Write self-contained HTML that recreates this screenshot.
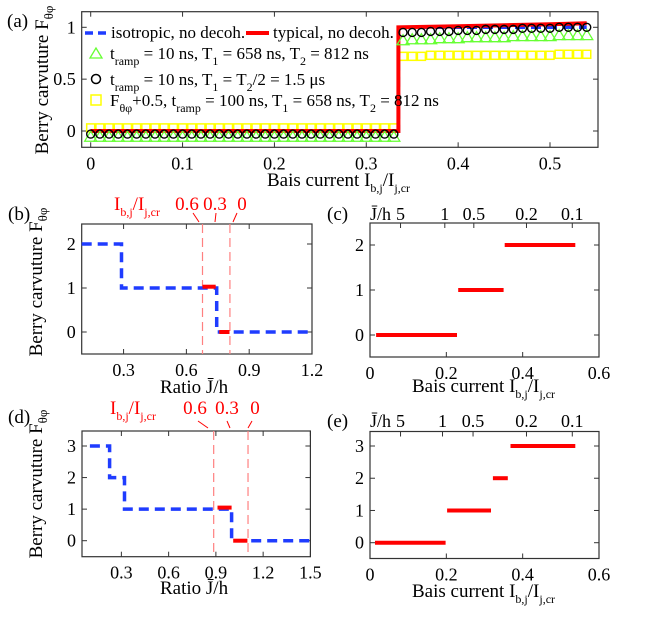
<!DOCTYPE html>
<html><head><meta charset="utf-8"><style>
html,body{margin:0;padding:0;background:#fff}
svg, svg text{font-family:"Liberation Serif","DejaVu Serif","Times New Roman",serif}
</style></head><body>
<svg id="fig" width="654" height="614" viewBox="0 0 654 614" xmlns="http://www.w3.org/2000/svg" font-family="Liberation Serif, DejaVu Serif, serif">
<g id="root" font-family="Liberation Serif, DejaVu Serif, serif"></g>
</svg>
<script>
// ---- Data ----
// Panel (a)
const aXTicks=[0,0.1,0.2,0.3,0.4,0.5];
const aYTicks=[0,0.5,1];
const aBlue=[[0,0],[0.335,0],[0.335,1],[0.54,1]];
const aRed=[[0,0],[0.335,0],[0.335,1.0],[0.40,1.01],[0.45,1.02],[0.50,1.03],[0.54,1.04]];
const aMarkLeftX=[0,0.01,0.02,0.03,0.04,0.05,0.06,0.07,0.08,0.09,0.10,0.11,0.12,0.13,0.14,0.15,0.16,0.17,0.18,0.19,0.20,0.21,0.22,0.23,0.24,0.25,0.26,0.27,0.28,0.29,0.30,0.31,0.32,0.33];
const aMarkRightX=[0.34,0.35,0.36,0.37,0.38,0.39,0.40,0.41,0.42,0.43,0.44,0.45,0.46,0.47,0.48,0.49,0.50,0.51,0.52,0.53,0.54];
const aCircLeft=-0.03, aTriLeft=-0.06, aSqLeft=0.03;
const aCircRight=[0.95,0.95,0.95,0.96,0.96,0.96,0.97,0.97,0.97,0.98,0.98,0.98,0.98,0.99,0.99,0.99,0.99,1.0,1.0,1.0,1.0];
const aTriRight=[0.87,0.88,0.88,0.88,0.89,0.89,0.89,0.9,0.9,0.9,0.9,0.9,0.91,0.91,0.91,0.91,0.91,0.92,0.92,0.92,0.92];
const aSqRight=[0.72,0.72,0.72,0.73,0.73,0.73,0.73,0.73,0.73,0.73,0.73,0.73,0.73,0.73,0.73,0.73,0.73,0.74,0.74,0.74,0.74];
// Panel (b)
const bXTicks=[0.3,0.6,0.9,1.2];
const bYTicks=[0,1,2];
const bBlue=[[0.1,2],[0.29,2],[0.29,1],[0.745,1],[0.745,0],[1.2,0]];
const bRedSegs=[[0.677,0.74,1.03],[0.757,0.806,0]];
const bVLines=[0.677,0.808];
// Panel (c)
const cXTicks=[0,0.2,0.4,0.6];
const cYTicks=[0,1,2];
const cTopLabels=["5","1","0.5","0.2","0.1"];
const cTopX=[0.08,0.196,0.272,0.41,0.53];
const cSegs=[[0.016,0.228,0],[0.231,0.35,1],[0.353,0.538,2]];
// Panel (d)
const dXTicks=[0.3,0.6,0.9,1.2,1.5];
const dYTicks=[0,1,2,3];
const dBlue=[[0.1,3],[0.225,3],[0.225,2],[0.32,2],[0.32,1],[1.0,1],[1.0,0],[1.5,0]];
const dRedSegs=[[0.91,1.0,1.05],[1.01,1.1,0]];
const dVLines=[0.886,1.104];
// Panel (e)
const eXTicks=[0,0.2,0.4,0.6];
const eYTicks=[0,1,2,3];
const eTopLabels=["5","1","0.5","0.2","0.1"];
const eTopX=[0.08,0.19,0.27,0.41,0.53];
const eSegs=[[0.013,0.198,0],[0.202,0.317,1],[0.322,0.361,2],[0.368,0.538,3]];

const NS="http://www.w3.org/2000/svg";
const FONT='"Liberation Serif","DejaVu Serif",serif';
const root=document.getElementById('root');
function mk(tag,attrs,parent){const e=document.createElementNS(NS,tag);for(const k in attrs)e.setAttribute(k,attrs[k]);(parent||root).appendChild(e);return e;}
function lin(d0,d1,r0,r1){return v=>r0+(v-d0)/(d1-d0)*(r1-r0);}
function txt(x,y,s,attrs,name){const t=mk('text',Object.assign({x:x,y:y},attrs||{}));t.style.fontFamily=FONT;t.innerHTML=s;return t;}

function axes(name,L,T,R,B,xs,ys,xt,yt,topTicks,fmtX){
  const g=mk('g',{});
  
  
  const box=mk('rect',{x:L,y:T,width:R-L,height:B-T,fill:'none',stroke:'#333','stroke-width':1.2},g);
  
  
  xt.forEach(v=>{const x=xs(v);
    mk('line',{x1:x,y1:B,x2:x,y2:B-5,stroke:'#333'},g);
    if(!topTicks) mk('line',{x1:x,y1:T,x2:x,y2:T+5,stroke:'#333'},g);
    txt(x,B+22,fmtX?fmtX(v):String(v),{'text-anchor':'middle','font-size':18},name+'-x-tick-label');
  });
  yt.forEach(v=>{const y=ys(v);
    mk('line',{x1:L,y1:y,x2:L+5,y2:y,stroke:'#333'},g);
    mk('line',{x1:R,y1:y,x2:R-5,y2:y,stroke:'#333'},g);
    txt(L-6,y+6,String(v),{'text-anchor':'end','font-size':18},name+'-y-tick-label');
  });
  if(topTicks) topTicks.forEach(x=>mk('line',{x1:x,y1:T,x2:x,y2:T+5,stroke:'#333'},g));
  return g;
}
function path(pts,xs,ys,attrs,name){
  const d=pts.map((p,i)=>(i?'L':'M')+xs(p[0]).toFixed(1)+' '+ys(p[1]).toFixed(1)).join(' ');
  const p=mk('path',Object.assign({d:d,fill:'none'},attrs));
  
  
  return p;
}
const blueDash={stroke:'#1f3cff','stroke-width':3.5,'stroke-dasharray':'10 6'};
const redSolid={stroke:'#ff0000','stroke-width':4};

function ylabel(cx,cy,name){
  txt(0,0,'Berry carvuture  F<tspan font-size="13" dy="5">θφ</tspan>',{'font-size':19,'text-anchor':'middle',transform:`translate(${cx},${cy}) rotate(-90)`},name);
}
const sub=(s)=>`<tspan font-size="12" dy="6">${s}</tspan>`;

// ===== Panel (a) =====
{
const L=81.7,R=598,T=11.7,B=147.3;
const xs=lin(0,0.5,90.7,550), ys=lin(0,1,131,27.3);
axes('panel-a',L,T,R,B,xs,ys,aXTicks,aYTicks);
const sq=(x,v)=>{const r=mk('rect',{x:xs(x)-4,y:ys(v)-4,width:8,height:8,fill:'none',stroke:'#ffff00','stroke-width':1.5});};
aMarkLeftX.forEach(x=>sq(x,aSqLeft)); aMarkRightX.forEach((x,i)=>sq(x,aSqRight[i]));
path(aBlue,xs,ys,blueDash,'isotropic-line');
path(aRed,xs,ys,redSolid,'typical-line');
const tri=(x,v)=>{const cx=xs(x),cy=ys(v);const p=mk('polygon',{points:`${cx},${cy-6} ${cx-6},${cy+4} ${cx+6},${cy+4}`,fill:'none',stroke:'#66ff33','stroke-width':1.3});};
aMarkLeftX.forEach(x=>tri(x,aTriLeft)); aMarkRightX.forEach((x,i)=>tri(x,aTriRight[i]));
const circ=(x,v)=>{const c=mk('circle',{cx:xs(x),cy:ys(v),r:4,fill:'none',stroke:'#000','stroke-width':1.4});};
aMarkLeftX.forEach(x=>circ(x,aCircLeft)); aMarkRightX.forEach((x,i)=>circ(x,aCircRight[i]));
const lg=mk('g',{});
mk('line',{x1:85,y1:33,x2:108,y2:33,stroke:'#1f3cff','stroke-width':3.5,'stroke-dasharray':'8 5'},lg);
txt(111,38,'isotropic, no decoh.',{'font-size':17},'legend-isotropic');
mk('line',{x1:246,y1:33,x2:269,y2:33,stroke:'#ff0000','stroke-width':4},lg);
txt(273,38,'typical, no decoh.',{'font-size':17},'legend-typical');
mk('polygon',{points:'96,48 90,58 102,58',fill:'none',stroke:'#66ff33','stroke-width':1.3},lg);
txt(110,59,'t'+sub('ramp')+'<tspan dy="-6"> = 10 ns, T</tspan>'+sub('1')+'<tspan dy="-6"> = 658 ns, T</tspan>'+sub('2')+'<tspan dy="-6"> = 812 ns</tspan>',{'font-size':17},'legend-triangle');
mk('circle',{cx:96,cy:79,r:4.5,fill:'none',stroke:'#000','stroke-width':1.5},lg);
txt(110,85,'t'+sub('ramp')+'<tspan dy="-6"> = 10 ns, T</tspan>'+sub('1')+'<tspan dy="-6"> = T</tspan>'+sub('2')+'<tspan dy="-6">/2 = 1.5 μs</tspan>',{'font-size':17},'legend-circle');
mk('rect',{x:91,y:95,width:10,height:10,fill:'none',stroke:'#ffff00','stroke-width':1.5},lg);
txt(110,106,'F'+sub('θφ')+'<tspan dy="-6">+0.5, t</tspan>'+sub('ramp')+'<tspan dy="-6"> = 100 ns, T</tspan>'+sub('1')+'<tspan dy="-6"> = 658 ns, T</tspan>'+sub('2')+'<tspan dy="-6"> = 812 ns</tspan>',{'font-size':17},'legend-square');
txt(267,186,'Bais current  I'+sub('b,j')+'<tspan dy="-6">/I</tspan>'+sub('j,cr'),{'font-size':19},'panel-a-x-title');
ylabel(48,80,'panel-a-y-title');
txt(7,27,'(a)',{'font-size':19},'panel-a-label');
}

function topRed(y0,xI,x06,x03,x0,lines,name){
  const g=mk('g',{});
  txt(xI,y0,'I'+sub('b,j')+'<tspan dy="-6">/I</tspan>'+sub('j,cr'),{'font-size':19,fill:'#ff0000'},name+'-ratio');
  txt(x06,y0,'0.6',{'font-size':19,fill:'#ff0000','text-anchor':'middle'},name+'-06');
  txt(x03,y0,'0.3',{'font-size':19,fill:'#ff0000','text-anchor':'middle'},name+'-03');
  txt(x0,y0,'0',{'font-size':19,fill:'#ff0000','text-anchor':'middle'},name+'-0');
  lines.forEach(l=>mk('line',{x1:l[0],y1:l[1],x2:l[2],y2:l[3],stroke:'#ff0000','stroke-width':1},g));
}

// ===== Panel (b) =====
{
const L=81.7,R=312,T=224,B=354;
const xs=lin(0.1,1.2,L,R), ys=lin(0,2,332,244);
axes('panel-b',L,T,R,B,xs,ys,bXTicks,bYTicks);
bVLines.forEach(v=>{const l=mk('line',{x1:xs(v),y1:T,x2:xs(v),y2:B,stroke:'#ff8080','stroke-width':1.2,'stroke-dasharray':'9 5'});});
path(bBlue,xs,ys,blueDash,'isotropic-line-b');
bRedSegs.forEach(s=>path([[s[0],s[2]],[s[1],s[2]]],xs,ys,redSolid,'typical-segment-b'));
topRed(210,114,187,215,242,[[193,213,199,222],[216,213,215,222],[237,213,233,222]],'panel-b-top');
txt(160,393,'Ratio  J̄/h',{'font-size':19},'panel-b-x-title');
ylabel(42,282,'panel-b-y-title');
txt(8,220,'(b)',{'font-size':19},'panel-b-label');
}
// ===== Panel (c) =====
{
const L=370,R=599,T=223,B=357;
const xs=lin(0,0.6,L,R), ys=lin(0,2,335,245);
axes('panel-c',L,T,R,B,xs,ys,cXTicks,cYTicks,cTopX.map(xs),v=>v===0?'0':String(v));
cTopLabels.forEach((s,i)=>txt(xs(cTopX[i]),220,s,{'font-size':18,'text-anchor':'middle'},'top-tick-label-c'));
txt(370,220,'J̄/h',{'font-size':18},'panel-c-top-title');
cSegs.forEach(s=>path([[s[0],s[2]],[s[1],s[2]]],xs,ys,redSolid,'typical-segment-c'));
txt(412,392,'Bais current  I'+sub('b,j')+'<tspan dy="-6">/I</tspan>'+sub('j,cr'),{'font-size':19},'panel-c-x-title');
txt(327,220,'(c)',{'font-size':19},'panel-c-label');
}
// ===== Panel (d) =====
{
const L=82,R=310.4,T=431,B=556.7;
const xs=lin(0.05,1.5,L,R), ys=lin(0,3,540.7,446);
axes('panel-d',L,T,R,B,xs,ys,dXTicks,dYTicks);
dVLines.forEach(v=>{const l=mk('line',{x1:xs(v),y1:T,x2:xs(v),y2:B,stroke:'#ff8080','stroke-width':1.2,'stroke-dasharray':'9 5'});});
path(dBlue,xs,ys,blueDash,'isotropic-line-d');
dRedSegs.forEach(s=>path([[s[0],s[2]],[s[1],s[2]]],xs,ys,redSolid,'typical-segment-d'));
topRed(414,110,195,227,255,[[198,421,208,428],[227,421,230,428],[252,421,248,428]],'panel-d-top');
txt(160,594,'Ratio  J̄/h',{'font-size':19},'panel-d-x-title');
ylabel(42,484,'panel-d-y-title');
txt(8,423,'(d)',{'font-size':19},'panel-d-label');
}
// ===== Panel (e) =====
{
const L=370,R=599,T=431.5,B=558.5;
const xs=lin(0,0.6,L,R), ys=lin(0,3,542.7,446);
axes('panel-e',L,T,R,B,xs,ys,eXTicks,eYTicks,eTopX.map(xs),v=>v===0?'0':String(v));
eTopLabels.forEach((s,i)=>txt(xs(eTopX[i]),427,s,{'font-size':18,'text-anchor':'middle'},'top-tick-label-e'));
txt(370,427,'J̄/h',{'font-size':18},'panel-e-top-title');
eSegs.forEach(s=>path([[s[0],s[2]],[s[1],s[2]]],xs,ys,redSolid,'typical-segment-e'));
txt(412,597,'Bais current  I'+sub('b,j')+'<tspan dy="-6">/I</tspan>'+sub('j,cr'),{'font-size':19},'panel-e-x-title');
txt(327,427,'(e)',{'font-size':19},'panel-e-label');
}
</script>
</body></html>
